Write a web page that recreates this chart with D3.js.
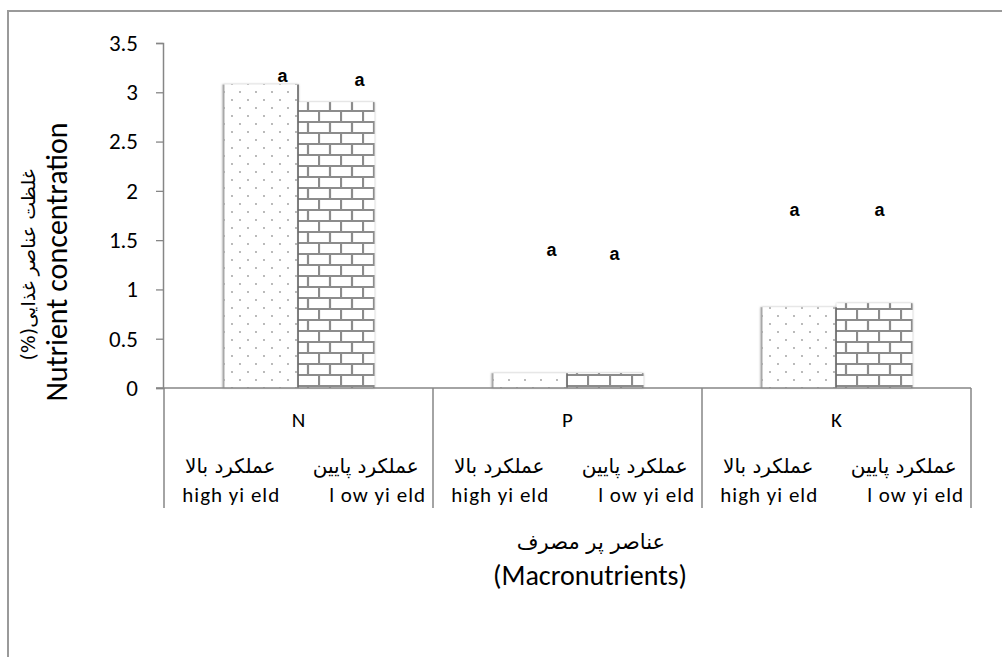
<!DOCTYPE html>
<html>
<head>
<meta charset="utf-8">
<script src="https://cdn.jsdelivr.net/npm/d3@7"></script>
<style>
  body { margin: 0; background: #fff; }
  svg { display: block; }
  text { font-family: Carlito, Lato, "DejaVu Sans", sans-serif; fill: #000; }
</style>
</head>
<body>
<script>
// data
const nutrients = ["N", "P", "K"];
const yieldGroups = ["high", "low"];
const groupLabelFa = ["عملکرد بالا", "عملکرد پایین"];
const groupLabelEn = ["high yi eld", "l ow yi eld"];
const highYield = [3.08, 0.15, 0.82];
const lowYield = [2.90, 0.15, 0.86];
// significance letters and the height (in % units) where they sit
const letters = [["a", "a"], ["a", "a"], ["a", "a"]];
const letterLevel = [[3.1, 3.06], [1.34, 1.30], [1.74, 1.74]];
const yTicks = [0, 0.5, 1, 1.5, 2, 2.5, 3, 3.5];

const w = 1002, h = 657;
// letter nudges in px from the bar centre (annotations in the original sit irregularly)
const letterDx = [[22, 23], [22, 9], [-4, 5]];

const svg = d3.select("body").append("svg")
  .attr("width", w)
  .attr("height", h);

const defs = svg.append("defs");

// dotted fill for high yield
const dots = defs.append("pattern")
  .attr("id", "dots")
  .attr("patternUnits", "userSpaceOnUse")
  .attr("width", 16).attr("height", 16);
dots.append("rect").attr("width", 16).attr("height", 16).attr("fill", "#fff");
dots.append("circle").attr("cx", 4).attr("cy", 4).attr("r", 0.9).attr("fill", "#9a9a9a");
dots.append("circle").attr("cx", 12).attr("cy", 12).attr("r", 0.9).attr("fill", "#9a9a9a");

// brick fill for low yield
const brick = defs.append("pattern")
  .attr("id", "brick")
  .attr("patternUnits", "userSpaceOnUse")
  .attr("width", 22).attr("height", 22);
brick.append("rect").attr("width", 22).attr("height", 22).attr("fill", "#fff");
brick.append("path")
  .attr("d", "M0,1 H22 M0,12 H22 M1,1 V12 M12,12 V22")
  .attr("stroke", "#8c8c8c")
  .attr("stroke-width", 2.2)
  .attr("fill", "none");

const shadow = defs.append("filter").attr("id", "shadow")
  .attr("x", "-10%").attr("y", "-10%").attr("width", "120%").attr("height", "120%");
shadow.append("feDropShadow")
  .attr("dx", 0).attr("dy", 0)
  .attr("stdDeviation", 1.2)
  .attr("flood-color", "#888")
  .attr("flood-opacity", 0.7);

// outer chart frame (runs off the right and bottom)
svg.append("path")
  .attr("d", "M8," + (h + 5) + " V11 H" + (w + 5))
  .attr("fill", "none")
  .attr("stroke", "#9a9a9a")
  .attr("stroke-width", 2);

// scales
const xScale = d3.scaleBand()
  .domain(nutrients)
  .range([164, 971]);

const xSub = d3.scaleBand()
  .domain(yieldGroups)
  .range([0, xScale.bandwidth()])
  .paddingOuter(0.77);

const yScale = d3.scaleLinear()
  .domain([0, 3.5])
  .range([388, 43]);

// y axis
const yAxis = svg.append("g")
  .attr("transform", "translate(163,0)")
  .call(d3.axisLeft(yScale).tickValues(yTicks).tickSize(7).tickPadding(18).tickFormat(d3.format("")));
yAxis.select(".domain").attr("stroke", "#868686").attr("stroke-width", 1.5);
yAxis.selectAll(".tick line").attr("stroke", "#868686").attr("stroke-width", 1.3);
yAxis.selectAll(".tick text")
  .attr("font-size", 23)
  .attr("font-family", "Carlito, Lato, sans-serif")
  .attr("fill", "#000");

// bars
const rows = nutrients.map(function (n, i) {
  return { n: n, i: i, vals: [highYield[i], lowYield[i]] };
});

const groups = svg.selectAll("g.cat")
  .data(rows)
  .enter()
  .append("g")
  .attr("class", "cat")
  .attr("transform", function (d) { return "translate(" + xScale(d.n) + ",0)"; });

groups.selectAll("rect.bar")
  .data(function (d) {
    return d.vals.map(function (v, j) { return { g: yieldGroups[j], v: v, i: d.i, j: j }; });
  })
  .enter()
  .append("rect")
  .attr("class", "bar")
  .attr("x", function (d) { return xSub(d.g); })
  .attr("y", function (d) { return yScale(d.v); })
  .attr("width", xSub.bandwidth())
  .attr("height", function (d) { return yScale(0) - yScale(d.v); })
  .attr("fill", function (d) { return d.j === 0 ? "url(#dots)" : "url(#brick)"; })
  .attr("filter", "url(#shadow)");

// edges of the dotted bars
groups.append("line")
  .attr("x1", function () { return xSub("high") + 1; })
  .attr("x2", function () { return xSub("high") + 1; })
  .attr("y1", function (d) { return yScale(d.vals[0]); })
  .attr("y2", yScale(0))
  .attr("stroke", "#a8a8a8")
  .attr("stroke-width", 2);
groups.append("line")
  .attr("x1", function () { return xSub("low") - 0.5; })
  .attr("x2", function () { return xSub("low") - 0.5; })
  .attr("y1", function (d) { return yScale(d.vals[0]); })
  .attr("y2", yScale(0))
  .attr("stroke", "#5a5a5a")
  .attr("stroke-width", 1.5);

// significance letters
groups.selectAll("text.sig")
  .data(function (d) {
    return letters[d.i].map(function (t, j) { return { t: t, i: d.i, j: j }; });
  })
  .enter()
  .append("text")
  .attr("class", "sig")
  .attr("x", function (d) { return xSub(yieldGroups[d.j]) + xSub.bandwidth() / 2 + letterDx[d.i][d.j]; })
  .attr("y", function (d) { return yScale(letterLevel[d.i][d.j]); })
  .attr("text-anchor", "middle")
  .style("font-family", "'Liberation Sans', Arial, sans-serif")
  .attr("font-weight", "bold")
  .attr("font-size", 18)
  .text(function (d) { return d.t; });

// x axis: baseline + multi-level category table
svg.append("line")
  .attr("x1", 156).attr("x2", 971)
  .attr("y1", yScale(0)).attr("y2", yScale(0))
  .attr("stroke", "#868686").attr("stroke-width", 1.5);

const edges = nutrients.map(function (n) { return xScale(n); }).concat([xScale.range()[1]]);
svg.selectAll("line.sep")
  .data(edges)
  .enter()
  .append("line")
  .attr("class", "sep")
  .attr("x1", function (d) { return d; })
  .attr("x2", function (d) { return d; })
  .attr("y1", yScale(0))
  .attr("y2", 508)
  .attr("stroke", "#868686")
  .attr("stroke-width", 1.5);

groups.append("text")
  .attr("x", xScale.bandwidth() / 2)
  .attr("y", 427)
  .attr("text-anchor", "middle")
  .attr("font-size", 21)
  .text(function (d) { return d.n; });

const step = xScale.bandwidth() / 2;
groups.selectAll("text.fa")
  .data(groupLabelFa)
  .enter()
  .append("text")
  .attr("class", "fa")
  .attr("x", function (d, j) { return step * j + step / 2 + (j === 0 ? -1 : 0); })
  .attr("y", 473)
  .attr("text-anchor", "middle")
  .attr("direction", "rtl")
  .attr("font-size", 20)
  .style("font-family", "'DejaVu Sans', sans-serif")
  .text(function (d) { return d; });

groups.selectAll("text.en")
  .data(groupLabelEn)
  .enter()
  .append("text")
  .attr("class", "en")
  .attr("x", function (d, j) { return j === 0 ? step / 2 : xScale.bandwidth() - 7; })
  .attr("y", 502)
  .attr("text-anchor", function (d, j) { return j === 0 ? "middle" : "end"; })
  .attr("font-size", 21)
  .attr("letter-spacing", 1)
  .text(function (d) { return d; });

// axis titles
svg.append("text")
  .attr("x", 591).attr("y", 549)
  .attr("text-anchor", "middle")
  .attr("direction", "rtl")
  .attr("font-size", 21)
  .style("font-family", "'DejaVu Sans', sans-serif")
  .text("عناصر پر مصرف");

svg.append("text")
  .attr("x", 590).attr("y", 585)
  .attr("text-anchor", "middle")
  .attr("font-size", 28)
  .text("(Macronutrients)");

svg.append("text")
  .attr("transform", "translate(35,265)rotate(-90)")
  .attr("text-anchor", "middle")
  .attr("direction", "rtl")
  .attr("font-size", 19)
  .style("font-family", "'DejaVu Sans', sans-serif")
  .text("غلظت عناصر غذایی(%)");

svg.append("text")
  .attr("transform", "translate(67,262)rotate(-90)")
  .attr("text-anchor", "middle")
  .attr("font-size", 30)
  .text("Nutrient concentration");
</script>
</body>
</html>
